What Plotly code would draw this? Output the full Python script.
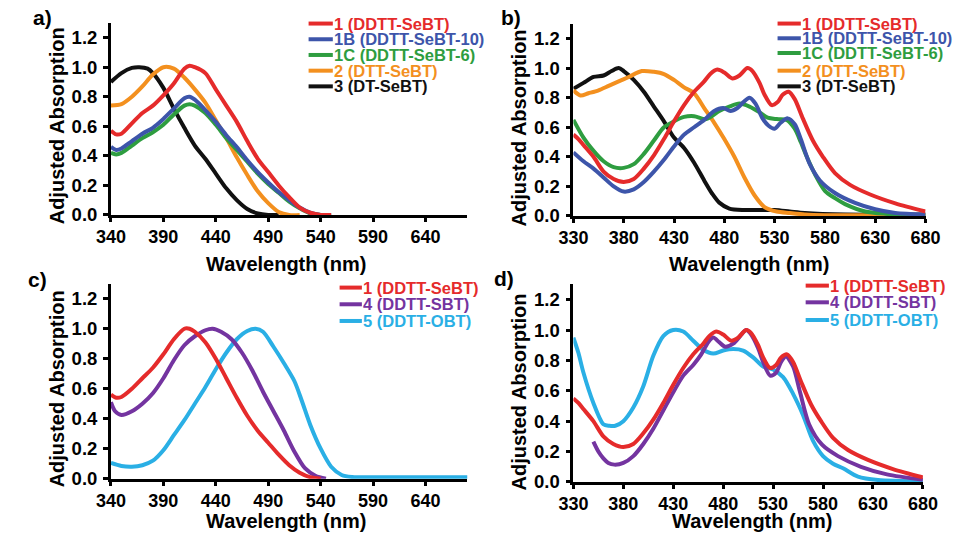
import plotly.graph_objects as go

W, H = 966, 542

# ---------------- data ----------------
# Panel a
a_red_x = [340, 345, 350, 360, 370, 380, 390, 400, 410, 415, 420, 430, 440, 450, 460, 470, 480, 490, 500, 510, 520, 530, 540, 550]
a_red_y = [0.57, 0.545, 0.55, 0.62, 0.69, 0.74, 0.81, 0.89, 0.99, 1.01, 1.0, 0.96, 0.85, 0.74, 0.63, 0.50, 0.38, 0.29, 0.20, 0.12, 0.05, 0.015, 0.0, 0.0]
a_blue_x = [340, 345, 350, 360, 370, 380, 390, 400, 410, 415, 420, 430, 440, 450, 460, 470, 480, 490, 500, 510, 520, 530, 540, 550]
a_blue_y = [0.46, 0.44, 0.45, 0.50, 0.55, 0.59, 0.65, 0.72, 0.79, 0.80, 0.78, 0.71, 0.63, 0.54, 0.46, 0.37, 0.29, 0.22, 0.155, 0.10, 0.05, 0.015, 0.0, 0.0]
a_green_x = [340, 345, 350, 360, 370, 380, 390, 400, 410, 415, 420, 430, 440, 450, 460, 470, 480, 490, 500, 510, 520, 530, 540, 550]
a_green_y = [0.42, 0.41, 0.42, 0.47, 0.52, 0.56, 0.61, 0.68, 0.74, 0.75, 0.74, 0.69, 0.61, 0.52, 0.44, 0.36, 0.28, 0.21, 0.15, 0.09, 0.045, 0.01, 0.0, 0.0]
a_orange_x = [340, 350, 360, 370, 380, 390, 400, 410, 420, 430, 440, 450, 460, 470, 480, 490, 500, 510, 520]
a_orange_y = [0.74, 0.75, 0.80, 0.87, 0.95, 1.0, 0.99, 0.93, 0.85, 0.76, 0.64, 0.52, 0.39, 0.27, 0.16, 0.08, 0.02, 0.0, 0.0]
a_black_x = [340, 350, 360, 367, 375, 380, 390, 400, 410, 420, 430, 440, 450, 460, 470, 480, 490, 500]
a_black_y = [0.90, 0.96, 0.995, 1.0, 0.99, 0.96, 0.86, 0.72, 0.59, 0.47, 0.38, 0.28, 0.18, 0.10, 0.04, 0.01, 0.0, 0.0]

# Panel b (red reused in d)
b_red_x = [330, 335, 340, 350, 360, 370, 380, 390, 400, 410, 420, 430, 440, 450, 460, 466, 473, 480, 488, 495, 503, 508, 515, 520, 527, 533, 538, 544, 550, 558, 568, 578, 590, 605, 625, 650, 680]
b_red_y = [0.55, 0.52, 0.48, 0.40, 0.30, 0.25, 0.23, 0.25, 0.32, 0.41, 0.52, 0.64, 0.75, 0.84, 0.91, 0.96, 0.99, 0.97, 0.93, 0.95, 1.0, 0.98, 0.90, 0.82, 0.75, 0.77, 0.82, 0.84, 0.79, 0.66, 0.51, 0.40, 0.29, 0.21, 0.145, 0.085, 0.03]
b_blue_x = [330, 340, 350, 360, 370, 380, 390, 400, 410, 420, 430, 440, 450, 460, 470, 479, 486, 493, 499, 505, 511, 518, 524, 530, 536, 543, 550, 556, 565, 575, 590, 610, 630, 650, 680]
b_blue_y = [0.43, 0.37, 0.32, 0.26, 0.20, 0.165, 0.18, 0.23, 0.30, 0.38, 0.47, 0.55, 0.60, 0.65, 0.71, 0.73, 0.71, 0.73, 0.77, 0.80, 0.76, 0.66, 0.61, 0.59, 0.63, 0.66, 0.62, 0.52, 0.35, 0.24, 0.155, 0.088, 0.045, 0.02, 0.01]
b_green_x = [330, 340, 350, 360, 370, 380, 390, 400, 410, 420, 430, 440, 450, 462, 475, 485, 495, 505, 513, 523, 532, 542, 550, 556, 562, 571, 580, 590, 600, 620, 640, 680]
b_green_y = [0.65, 0.53, 0.44, 0.37, 0.33, 0.325, 0.35, 0.42, 0.51, 0.60, 0.64, 0.67, 0.675, 0.655, 0.71, 0.74, 0.76, 0.74, 0.71, 0.665, 0.655, 0.65, 0.59, 0.50, 0.40, 0.27, 0.17, 0.12, 0.08, 0.03, 0.015, 0.005]
b_orange_x = [330, 337, 345, 355, 365, 375, 385, 398, 410, 420, 430, 440, 450, 460, 470, 480, 490, 500, 510, 520, 532, 545, 560, 580, 680]
b_orange_y = [0.85, 0.815, 0.83, 0.85, 0.88, 0.91, 0.94, 0.98, 0.975, 0.96, 0.92, 0.87, 0.83, 0.73, 0.63, 0.52, 0.40, 0.26, 0.14, 0.06, 0.03, 0.02, 0.01, 0.005, 0.005]
b_black_x = [330, 340, 350, 360, 368, 375, 380, 390, 400, 410, 420, 430, 440, 450, 460, 468, 475, 485, 500, 530, 545, 560, 600, 680]
b_black_y = [0.86, 0.90, 0.94, 0.95, 0.98, 1.0, 0.98, 0.92, 0.84, 0.74, 0.64, 0.53, 0.46, 0.36, 0.24, 0.15, 0.09, 0.05, 0.04, 0.04, 0.03, 0.02, 0.01, 0.01]

# Panel c
c_red_x = [340, 345, 350, 360, 370, 380, 390, 400, 410, 415, 420, 430, 440, 450, 460, 470, 480, 490, 500, 510, 520, 530, 540]
c_red_y = [0.56, 0.54, 0.545, 0.60, 0.67, 0.74, 0.83, 0.93, 1.0, 1.0, 0.98, 0.91, 0.80, 0.67, 0.54, 0.42, 0.32, 0.24, 0.16, 0.09, 0.04, 0.01, 0.0]
c_purple_x = [340, 344, 350, 360, 370, 380, 390, 400, 410, 420, 430, 437, 445, 455, 465, 475, 485, 495, 505, 515, 525, 535, 545]
c_purple_y = [0.51, 0.45, 0.425, 0.45, 0.50, 0.57, 0.67, 0.79, 0.89, 0.95, 0.99, 1.0, 0.98, 0.93, 0.84, 0.72, 0.58, 0.45, 0.32, 0.18, 0.07, 0.02, 0.0]
c_cyan_x = [340, 350, 360, 370, 380, 390, 400, 410, 420, 430, 440, 450, 460, 470, 478, 485, 495, 505, 515, 522, 530, 540, 550, 560, 570, 600, 680]
c_cyan_y = [0.105, 0.085, 0.08, 0.09, 0.12, 0.19, 0.29, 0.39, 0.50, 0.61, 0.73, 0.84, 0.93, 0.985, 1.0, 0.98, 0.88, 0.77, 0.65, 0.52, 0.36, 0.20, 0.08, 0.025, 0.012, 0.01, 0.01]

# Panel d
d_purple_x = [350, 355, 360, 365, 371, 380, 390, 400, 410, 420, 430, 440, 450, 458, 465, 470, 476, 482, 490, 497, 503, 508, 515, 520, 527, 533, 538, 543, 550, 557, 566, 579, 595, 618, 644, 680]
d_purple_y = [0.265, 0.20, 0.155, 0.125, 0.114, 0.125, 0.17, 0.25, 0.35, 0.47, 0.59, 0.70, 0.77, 0.84, 0.92, 0.95, 0.92, 0.89, 0.91, 0.96, 1.0, 0.97, 0.88, 0.79, 0.70, 0.72, 0.79, 0.825, 0.76, 0.59, 0.38, 0.245, 0.17, 0.10, 0.05, 0.015]
d_cyan_x = [330, 335, 340, 350, 360, 366, 372, 380, 390, 400, 410, 420, 430, 440, 450, 460, 470, 480, 490, 500, 510, 520, 530, 540, 550, 560, 570, 580, 590, 600, 615, 635, 680]
d_cyan_y = [0.95, 0.85, 0.72, 0.52, 0.38, 0.37, 0.37, 0.40, 0.49, 0.63, 0.83, 0.96, 1.0, 0.99, 0.93, 0.87, 0.845, 0.865, 0.875, 0.865, 0.82, 0.76, 0.74, 0.69, 0.58, 0.44, 0.27, 0.17, 0.12, 0.09, 0.035, 0.013, 0.005]

# legend labels / axis text
names_ab = ["1 (DDTT-SeBT)", "1B (DDTT-SeBT-10)", "1C (DDTT-SeBT-6)", "2 (DTT-SeBT)", "3 (DT-SeBT)"]
names_cd = ["1 (DDTT-SeBT)", "4 (DDTT-SBT)", "5 (DDTT-OBT)"]
panel_labels = ["a)", "b)", "c)", "d)"]
x_title = "Wavelength (nm)"
y_title = "Adjusted Absorption"

RED, BLUE, GREEN, ORANGE, BLACK = "#E52B2B", "#3D55AA", "#2E9D40", "#F3901F", "#111111"
PURPLE, CYAN = "#7434A0", "#2AAFE5"
FONT = "Liberation Sans, Arial, sans-serif"
LW = 4.0


def px(x):
    return x / W


def py(y):
    return 1 - y / H


fig = go.Figure()


def add(xs, ys, color, axis):
    fig.add_trace(go.Scatter(x=xs, y=ys, mode="lines",
                             line=dict(color=color, width=LW, shape="spline", smoothing=0.8),
                             xaxis="x" + axis, yaxis="y" + axis, showlegend=False, hoverinfo="skip"))


# panel a
add(a_black_x, a_black_y, BLACK, "")
add(a_orange_x, a_orange_y, ORANGE, "")
add(a_green_x, a_green_y, GREEN, "")
add(a_blue_x, a_blue_y, BLUE, "")
add(a_red_x, a_red_y, RED, "")
# panel b
add(b_black_x, b_black_y, BLACK, "2")
add(b_orange_x, b_orange_y, ORANGE, "2")
add(b_green_x, b_green_y, GREEN, "2")
add(b_blue_x, b_blue_y, BLUE, "2")
add(b_red_x, b_red_y, RED, "2")
# panel c
add(c_cyan_x, c_cyan_y, CYAN, "3")
add(c_purple_x, c_purple_y, PURPLE, "3")
add(c_red_x, c_red_y, RED, "3")
# panel d
add(d_cyan_x, d_cyan_y, CYAN, "4")
add(d_purple_x, d_purple_y, PURPLE, "4")
add(b_red_x, b_red_y, RED, "4")

# ---- axes ----
doms = {
    "": ((99, 467), (23.3, 219), 340),
    "2": ((576.3, 939.7), (24.2, 220), 330),
    "3": ((99, 467), (289.1, 487.7), 340),
    "4": ((576.3, 937), (289.8, 491), 330),
}
tickfont = dict(family=FONT, size=18, color="#000", weight="bold")
layout = {}
for k, ((x0, x1), (yt, yb), xmin) in doms.items():
    layout["xaxis" + k] = dict(domain=[px(x0), px(x1)], range=[xmin, 680], anchor="y" + k,
                               tick0=xmin, dtick=50, ticks="outside", ticklen=4, tickwidth=2.5, tickcolor="#000",
                               showline=True, linecolor="#000", linewidth=2.8, showgrid=False, zeroline=False,
                               tickfont=tickfont)
    layout["yaxis" + k] = dict(domain=[py(yb), py(yt)], range=[0, 1.3], anchor="x" + k,
                               tick0=0, dtick=0.2, tickformat=".1f", ticks="outside", ticklen=5, tickwidth=2.5,
                               tickcolor="#000", showline=True, linecolor="#000", linewidth=2.8, showgrid=False,
                               zeroline=False, tickfont=dict(tickfont, size=18.5), ticklabelstandoff=2)

annotations = []
shapes = []
# axis titles
for (xx, yy) in [(280, 269), (758, 269), (280, 530.5), (761, 530.5)]:
    annotations.append(dict(text=x_title, x=px(xx), y=py(yy), xref="paper", yref="paper", showarrow=False,
                            xanchor="center", yanchor="middle",
                            font=dict(family=FONT, size=20, color="#000", weight="bold")))
for (xx, yy) in [(43, 128), (520, 130), (43, 396), (520, 399)]:
    annotations.append(dict(text=y_title, x=px(xx), y=py(yy), xref="paper", yref="paper", showarrow=False,
                            textangle=-90, xanchor="center", yanchor="middle",
                            font=dict(family=FONT, size=20, color="#000", weight="bold")))
# panel labels
for lab, (xx, yy) in zip(panel_labels, [(16, 18), (499, 18), (11, 285), (492, 284)]):
    annotations.append(dict(text=lab, x=px(xx), y=py(yy), xref="paper", yref="paper", showarrow=False,
                            xanchor="left", yanchor="middle",
                            font=dict(family=FONT, size=21, color="#000", weight="bold")))


# legends
def legend(names, colors, lx0, lx1, rows):
    for n, c, r in zip(names, colors, rows):
        shapes.append(dict(type="line", xref="paper", yref="paper", x0=px(lx0), x1=px(lx1), y0=py(r), y1=py(r),
                           line=dict(color=c, width=LW)))
        annotations.append(dict(text=n, x=px(lx1 + 0.5), y=py(r), xref="paper", yref="paper", showarrow=False,
                                xanchor="left", yanchor="middle", borderpad=0,
                                font=dict(family=FONT, size=16.5, color=c, weight="bold")))


colors_ab = [RED, BLUE, GREEN, ORANGE, BLACK]
colors_cd = [RED, PURPLE, CYAN]
legend(names_ab, colors_ab, 303, 328, [24, 40, 56, 72, 88])
legend(names_ab, colors_ab, 787, 811, [24, 39, 54, 72, 88])
legend(names_cd, colors_cd, 335, 358, [293, 310, 327])
legend(names_cd, colors_cd, 816, 840, [291, 308, 326])

fig.update_layout(width=W, height=H, margin=dict(l=0, r=0, t=0, b=0), plot_bgcolor="white",
                  paper_bgcolor="white", annotations=annotations, shapes=shapes, showlegend=False, **layout)

fig.write_html("out.html")
